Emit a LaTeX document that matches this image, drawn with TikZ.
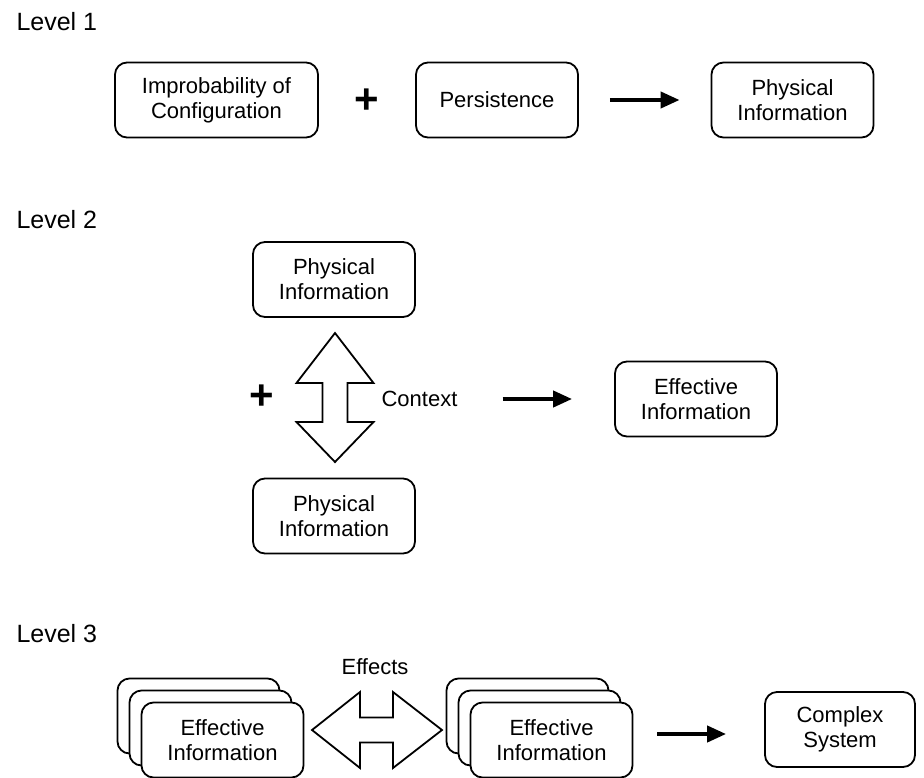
\documentclass[tikz,border=0pt]{standalone}
\usepackage{fontspec}
\setmainfont{Liberation Sans}
\usetikzlibrary{arrows.meta,positioning}

\begin{document}
\begin{tikzpicture}[x=1pt,y=-1pt,>={Triangle[length=19pt,width=16pt]},
    box/.style={draw,fill=white,rounded corners=12pt,line width=1.8pt,minimum width=162pt,minimum height=75pt,inner sep=0pt,align=center,font=\fontsize{22}{25}\selectfont},
    level/.style={anchor=base west,font=\fontsize{25}{28}\selectfont},
    plus/.style={font=\fontsize{42}{42}\selectfont\bfseries},
    lbl/.style={inner sep=0pt,font=\fontsize{22}{26}\selectfont},
    arr/.style={->,line width=4pt},
    bigarrow/.style={draw,line width=1.8pt,line join=miter}]
    \useasboundingbox (0,0) rectangle (924,777);

    % Level 1
    \node[level] (l1) at (13,30) {Level 1};
    \node[box,minimum width=203pt] (imp) at (216.5,100) {Improbability of\\Configuration};
    \node[box] (pers) at (497,100) {Persistence};
    \node[box] (phys1) at (792.5,100) {Physical\\Information};
    \node[plus] (plus1) at (367,101) {+};
    \path (pers) edge[arr,shorten <=31pt,shorten >=31pt] (phys1);

    % Level 2
    \node[level] (l2) at (13,228) {Level 2};
    \node[box] (phys2a) at (334,279.5) {Physical\\Information};
    \node[box] (phys2b) at (334,516) {Physical\\Information};
    \node[box] (eff2) at (696,399) {Effective\\Information};
    \node[plus] (plus2) at (262,397) {+};
    \node[lbl] (ctx) at (419.5,399) {Context};
    \path (ctx) edge[arr,shorten <=45pt,shorten >=42pt] (eff2);
    \draw[bigarrow] (335,333) -- (373.5,383) -- (347.5,383) -- (347.5,422) -- (373.5,422)
        -- (335,462) -- (296.5,422) -- (322.5,422) -- (322.5,383) -- (296.5,383) -- cycle;

    % Level 3
    \node[level] (l3) at (13,642) {Level 3};
    \foreach \d in {24,12} {
        \node[box] (eff3a\d) at (222.5-\d,740-\d) {};
        \node[box] (eff3b\d) at (551.5-\d,740-\d) {};
    }
    \node[box] (eff3a) at (222.5,740) {Effective\\Information};
    \node[box] (eff3b) at (551.5,740) {Effective\\Information};
    \node[box,minimum width=150pt] (cs) at (840,729.5) {Complex\\System};
    \node[lbl] (effects) at (375,667) {Effects};
    \draw[bigarrow] (312,730) -- (360,692) -- (360,717.5) -- (393,717.5) -- (393,692)
        -- (442,730) -- (393,768) -- (393,742.5) -- (360,742.5) -- (360,768) -- cycle;
    \draw[arr] ([xshift=24pt,yshift=6pt]eff3b.east) -- ([xshift=-38pt,yshift=-4.5pt]cs.west);
\end{tikzpicture}
\end{document}
